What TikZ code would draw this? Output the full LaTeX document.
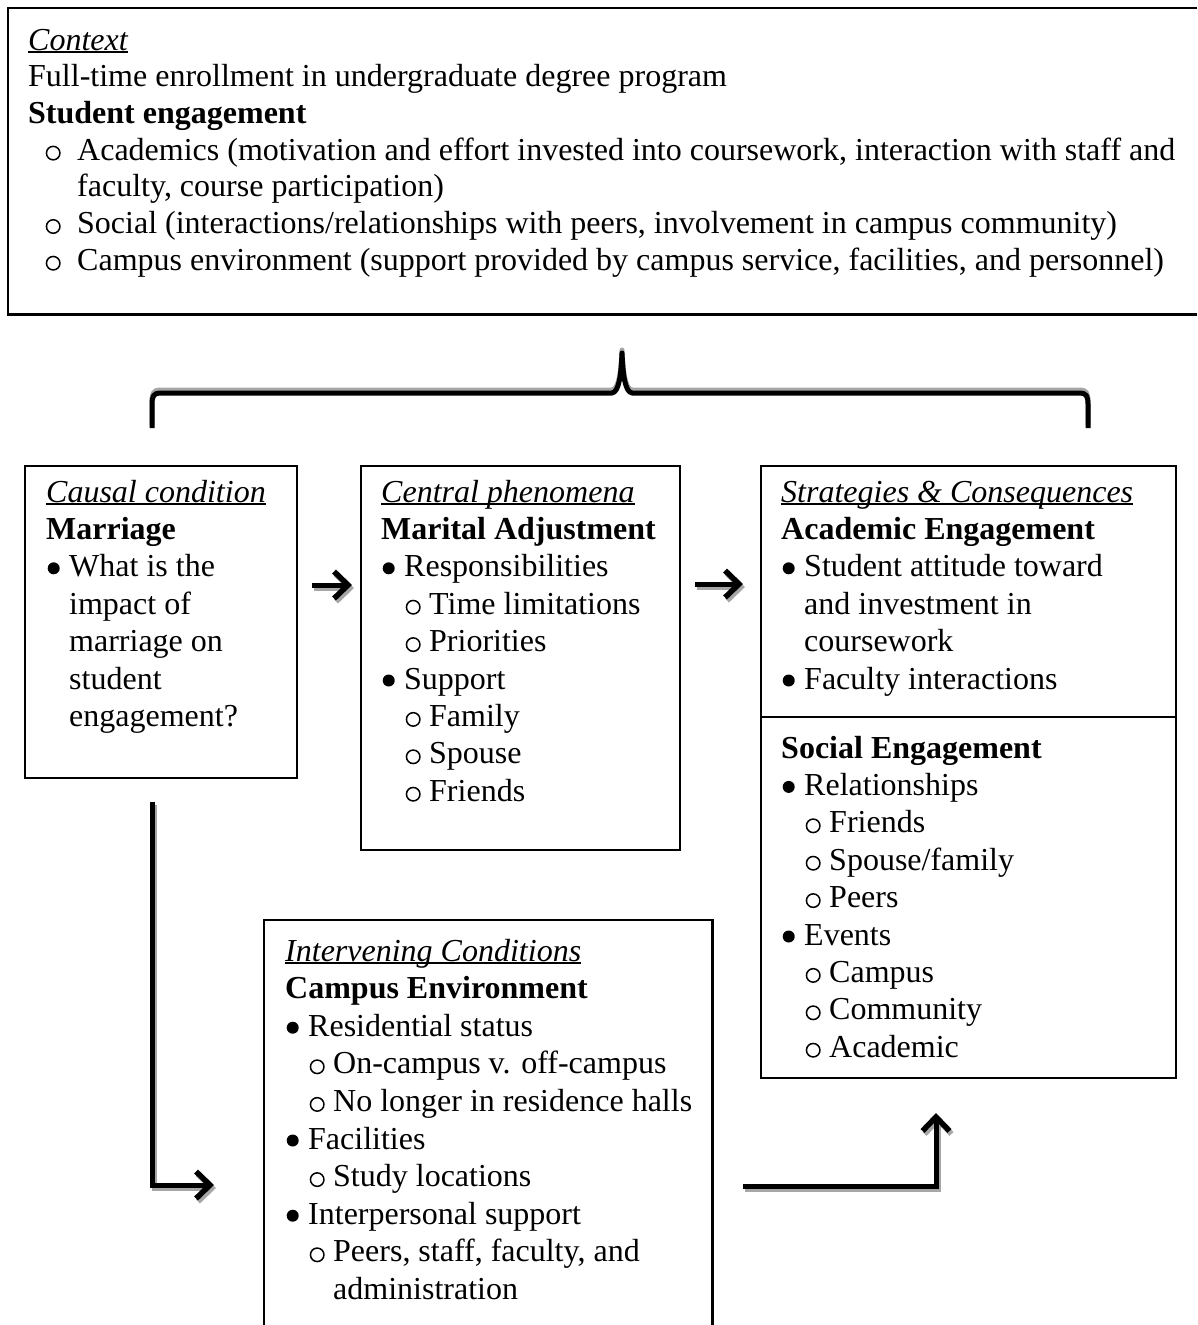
\documentclass[tikz,border=0pt]{standalone}
\usepackage{fontspec}
\usepackage{pict2e}
\setmainfont{Liberation Serif}
\usetikzlibrary{arrows.meta}

\setlength{\unitlength}{1pt}
\newcommand\ulit[1]{\setbox0\hbox{\itshape #1}\rlap{\rule[-3pt]{\wd0}{1.6pt}}\box0}
\newcommand\bdot{\begin{picture}(12,0)\put(6.5,8.5){\circle*{12}}\end{picture}}
\newcommand\subo{\begin{picture}(14,0)\linethickness{1.5pt}\put(7,7){\circle{13.5}}\end{picture}}
\newcommand\bl[1]{\hspace*{1pt}\makebox[22pt][l]{\bdot}#1}
\newcommand\bcn[1]{\hspace*{23pt}#1}
\newcommand\sbl[1]{\hspace*{25pt}\makebox[23pt][l]{\subo}#1}
\newcommand\scn[1]{\hspace*{48pt}#1}
\newcommand\tsb[1]{\hspace*{18pt}\makebox[31pt][l]{\subo}#1}
\newcommand\tcn[1]{\hspace*{49pt}#1}

\tikzset{
  boxshape/.style={draw, line width=2.2pt, inner sep=0pt, anchor=north west},
  areashape/.style={inner sep=0pt, anchor=north west},
  txt/.style={inner sep=0pt, anchor=base west, font=\fontsize{32}{37.4}\selectfont},
  itxt/.style={inner sep=0pt, anchor=base west, font=\fontsize{32}{37.6}\selectfont},
  ttxt/.style={inner sep=0pt, anchor=base west, font=\fontsize{32}{36.7}\selectfont},
  conn/.style={line width=5pt, -{Straight Barb[length=14pt,width=27pt,line width=5.5pt]}},
  plainconn/.style={line width=5pt},
  shadowc/.style={black!35},
}

\begin{document}
\begin{tikzpicture}[x=1pt,y=-1pt]
\fill[white] (0,0) rectangle (1197,1325);
\useasboundingbox (0,0) rectangle (1197,1325);

% Context box (open to the right edge)
\node[areashape, minimum width=1189pt, minimum height=306pt] (ctx) at (8,8) {};
\draw[line width=2.8pt] (ctx.north east) -| (ctx.south west) -- (ctx.south east);
\node[ttxt] (ctxtxt) at (28,50) {\begin{tabular}[t]{@{}l@{}}
\ulit{Context}\\
Full-time enrollment in undergraduate degree program\\
\textbf{Student engagement}\\
\tsb{Academics (motivation and effort invested into coursework, interaction with staff and}\\
\tcn{faculty, course participation)}\\
\tsb{Social (interactions/relationships with peers, involvement in campus community)}\\
\tsb{Campus environment (support provided by campus service, facilities, and personnel)}
\end{tabular}};

% Brace
\coordinate (brl) at (152,428);
\coordinate (brr) at (1088,428);
\begin{scope}[transform canvas={shift={(0pt,3pt)}}]
\draw[plainconn, shadowc, line join=round] (brl) -- (152,404) .. controls (152,396) and (154,393) .. (160,393) -- (612,393) .. controls (619,392) and (621,375) .. (622,353) .. controls (623,375) and (625,392) .. (632,393) -- (1080,393) .. controls (1086,393) and (1088,396) .. (1088,404) -- (brr);
\end{scope}
\draw[plainconn, line join=round] (brl) -- (152,404) .. controls (152,396) and (154,393) .. (160,393) -- (612,393) .. controls (619,392) and (621,375) .. (622,353) .. controls (623,375) and (625,392) .. (632,393) -- (1080,393) .. controls (1086,393) and (1088,396) .. (1088,404) -- (brr);

% Causal condition
\node[boxshape, minimum width=272pt, minimum height=312pt] (causal) at (24,465) {};
\node[txt] (causaltxt) at (46,502) {\begin{tabular}[t]{@{}l@{}}
\ulit{Causal condition}\\
\textbf{Marriage}\\
\bl{What is the}\\
\bcn{impact of}\\
\bcn{marriage on}\\
\bcn{student}\\
\bcn{engagement?}
\end{tabular}};

% Central phenomena
\node[boxshape, minimum width=319pt, minimum height=384pt] (central) at (360,465) {};
\node[txt] (centraltxt) at (381,502) {\begin{tabular}[t]{@{}l@{}}
\ulit{Central phenomena}\\
\textbf{Marital Adjustment}\\
\bl{Responsibilities}\\
\sbl{Time limitations}\\
\sbl{Priorities}\\
\bl{Support}\\
\sbl{Family}\\
\sbl{Spouse}\\
\sbl{Friends}
\end{tabular}};

% Strategies & Consequences
\node[boxshape, minimum width=415pt, minimum height=612pt] (strat) at (760,465) {};
\draw[line width=2.2pt] (760,717) -- (1175,717);
\node[txt] (strattxt) at (781,502) {\begin{tabular}[t]{@{}l@{}}
\ulit{Strategies \& Consequences}\\
\textbf{Academic Engagement}\\
\bl{Student attitude toward}\\
\bcn{and investment in}\\
\bcn{coursework}\\
\bl{Faculty interactions}
\end{tabular}};
\node[txt] (socialtxt) at (781,758) {\begin{tabular}[t]{@{}l@{}}
\textbf{Social Engagement}\\
\bl{Relationships}\\
\sbl{Friends}\\
\sbl{Spouse/family}\\
\sbl{Peers}\\
\bl{Events}\\
\sbl{Campus}\\
\sbl{Community}\\
\sbl{Academic}
\end{tabular}};

% Intervening conditions (open at the bottom edge)
\node[areashape, minimum width=448pt, minimum height=405pt] (interv) at (264,920) {};
\draw[line width=2.2pt] (interv.south west) |- (interv.north east) -- (interv.south east);
\node[itxt] (intervtxt) at (285,961) {\begin{tabular}[t]{@{}l@{}}
\ulit{Intervening Conditions}\\
\textbf{Campus Environment}\\
\bl{Residential status}\\
\sbl{On-campus v. off-campus}\\
\sbl{No longer in residence halls}\\
\bl{Facilities}\\
\sbl{Study locations}\\
\bl{Interpersonal support}\\
\sbl{Peers, staff, faculty, and}\\
\scn{administration}
\end{tabular}};

% Connector coordinates
\coordinate (a1s) at (312,585);
\coordinate (a1e) at (352,585);
\coordinate (a2s) at (695,584);
\coordinate (a2e) at (743,584);
\coordinate (a3s) at (152,802);
\coordinate (a3c) at (152,1185);
\coordinate (a3e) at (214,1185);
\coordinate (a4s) at (743,1186);
\coordinate (a4c) at (936,1186);
\coordinate (a4e) at (936,1113);

% Shadows
\begin{scope}[transform canvas={shift={(2pt,-3pt)}}]
\draw[conn, shadowc] (a1s) -- (a1e);
\draw[conn, shadowc] (a2s) -- (a2e);
\draw[conn, shadowc] (a3s) -- (a3c) -- (a3e);
\draw[conn, shadowc] (a4s) -- (a4c) -- (a4e);
\end{scope}
% Arrows
\draw[conn] (a1s) -- (a1e);
\draw[conn] (a2s) -- (a2e);
\draw[conn] (a3s) -- (a3c) -- (a3e);
\draw[conn] (a4s) -- (a4c) -- (a4e);
\end{tikzpicture}
\end{document}
